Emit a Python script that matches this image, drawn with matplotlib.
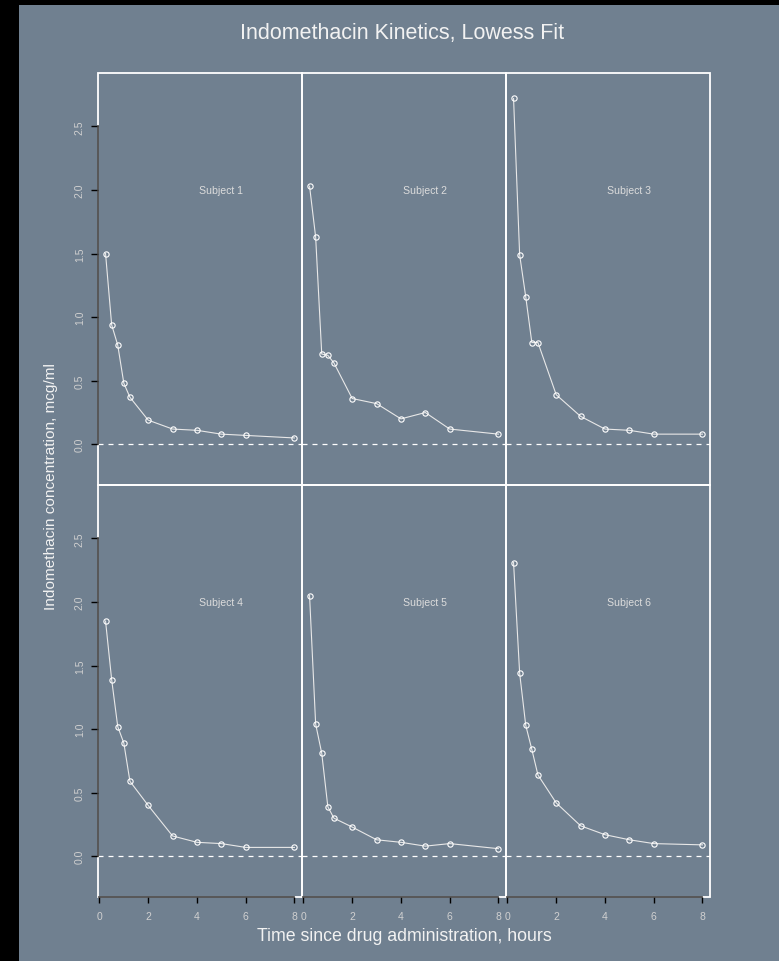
import matplotlib
matplotlib.use("Agg")
import matplotlib.pyplot as plt
from matplotlib.patches import Rectangle

plt.rcParams["font.family"] = ["Liberation Sans", "DejaVu Sans"]

# Indometh pharmacokinetics: plasma concentration (mcg/ml) by time (hours)
times = [0.25, 0.5, 0.75, 1.0, 1.25, 2.0, 3.0, 4.0, 5.0, 6.0, 8.0]
subject_1 = [1.50, 0.94, 0.78, 0.48, 0.37, 0.19, 0.12, 0.11, 0.08, 0.07, 0.05]
subject_2 = [2.03, 1.63, 0.71, 0.70, 0.64, 0.36, 0.32, 0.20, 0.25, 0.12, 0.08]
subject_3 = [2.72, 1.49, 1.16, 0.80, 0.80, 0.39, 0.22, 0.12, 0.11, 0.08, 0.08]
subject_4 = [1.85, 1.39, 1.02, 0.89, 0.59, 0.40, 0.16, 0.11, 0.10, 0.07, 0.07]
subject_5 = [2.05, 1.04, 0.81, 0.39, 0.30, 0.23, 0.13, 0.11, 0.08, 0.10, 0.06]
subject_6 = [2.31, 1.44, 1.03, 0.84, 0.64, 0.42, 0.24, 0.17, 0.13, 0.10, 0.09]
subjects = ["Subject 1", "Subject 2", "Subject 3", "Subject 4", "Subject 5", "Subject 6"]
series = [subject_1, subject_2, subject_3, subject_4, subject_5, subject_6]

x_ticks = [0, 2, 4, 6, 8]
y_ticks = [0.0, 0.5, 1.0, 1.5, 2.0, 2.5]
y_tick_labels = ["0.0", "0.5", "1.0", "1.5", "2.0", "2.5"]

BG = "#708090"
W, H = 779, 962
fig = plt.figure(figsize=(W / 100, H / 100), dpi=100, facecolor="black")

# slate panel on the black canvas, kept beneath the axes
fig.patches.append(Rectangle((19 / W, 0), 1 - 19 / W, 1 - 6 / H,
                             transform=fig.transFigure, facecolor=BG,
                             edgecolor="none", zorder=-10))

col_left = [98, 302, 506]
row_top = [74, 486]
pw, ph = 204, 412

for i, (name, conc) in enumerate(zip(subjects, series)):
    r, c = divmod(i, 3)
    left = col_left[c] / W
    bottom = 1 - (row_top[r] + ph) / H
    ax = fig.add_axes([left, bottom, pw / W, ph / H])
    ax.set_facecolor("none")
    ax.set_xlim(-0.06, 8.31)
    ax.set_ylim(-0.32, 2.92)

    # white panel frame
    ax.add_patch(Rectangle((0, 0), 1, 1, transform=ax.transAxes, fill=False,
                           edgecolor="white", lw=1.3, clip_on=False, zorder=1))
    for s in ax.spines.values():
        s.set_visible(False)

    ax.axhline(0, color="white", lw=0.9, ls=(0, (4, 4)), zorder=2)
    ax.plot(times, conc, color="#e8e8e8", lw=0.8, marker="o", ms=3.8,
            mfc="none", mec="white", mew=0.8, zorder=3)
    ax.text(5, 2.0, name, ha="center", va="center", fontsize=7.6,
            color="#dcdcdc")

    if c == 0:
        ax.spines["left"].set_visible(True)
        ax.spines["left"].set_bounds(0, 2.5)
        ax.spines["left"].set_color("#3a3a3a")
        ax.spines["left"].set_linewidth(1.2)
        ax.spines["left"].set_zorder(4)
        ax.set_yticks(y_ticks)
        ax.set_yticklabels(y_tick_labels, rotation=90, va="center")
        ax.tick_params(axis="y", direction="out", length=5, width=1,
                       color="black", labelcolor="#d0d0d0", labelsize=7.5,
                       pad=4.5)
    else:
        ax.set_yticks([])

    if r == 1:
        ax.spines["bottom"].set_visible(True)
        ax.spines["bottom"].set_bounds(0, 8)
        ax.spines["bottom"].set_color("#3a3a3a")
        ax.spines["bottom"].set_linewidth(1.2)
        ax.spines["bottom"].set_zorder(4)
        ax.set_xticks(x_ticks)
        ax.set_xticklabels([str(t) for t in x_ticks])
        ax.tick_params(axis="x", direction="out", length=4.5, width=1,
                       color="black", labelcolor="#d0d0d0", labelsize=7.5,
                       pad=5.5)
    else:
        ax.set_xticks([])

fig.text(402 / W, 1 - 33 / H, "Indomethacin Kinetics, Lowess Fit",
         ha="center", va="center", fontsize=15.5, color="#f2f2f2")
fig.text(404 / W, 1 - 937 / H, "Time since drug administration, hours",
         ha="center", va="center", fontsize=12.8, color="#f2f2f2")
fig.text(51 / W, 1 - 486 / H, "Indomethacin concentration, mcg/ml",
         ha="center", va="center", rotation=90, fontsize=11.1, color="#f2f2f2")

fig.savefig("out.png", dpi=100, facecolor=fig.get_facecolor())
